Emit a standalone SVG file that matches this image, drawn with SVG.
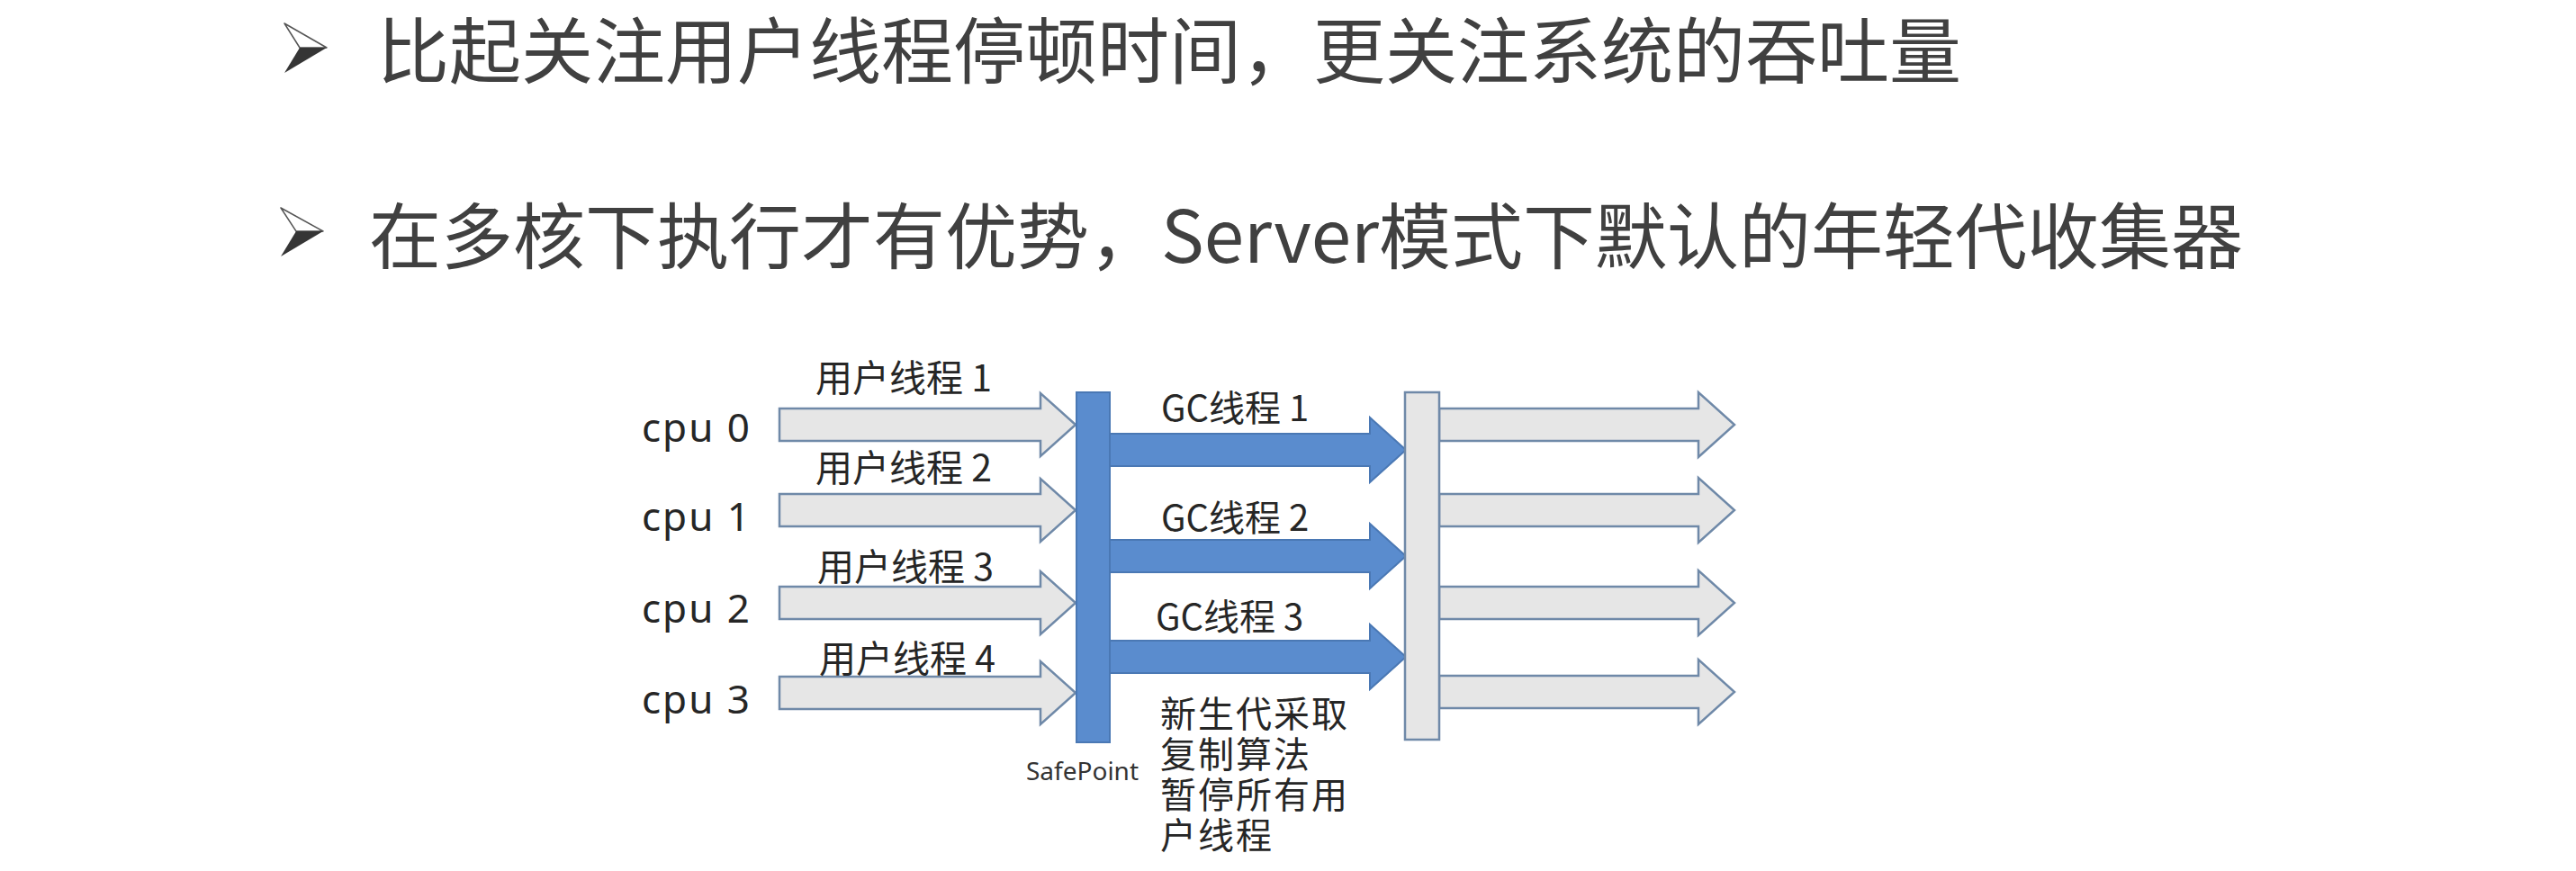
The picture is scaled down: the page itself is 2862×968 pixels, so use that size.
<svg xmlns="http://www.w3.org/2000/svg" width="2862" height="968" viewBox="0 0 2862 968">
<style>
.title{font-family:"Noto Sans CJK SC","Noto Sans",sans-serif;font-size:80px;fill:#404040}
.cpu{font-family:"Noto Sans","Liberation Sans",sans-serif;font-size:44px;fill:#262626;letter-spacing:2px}
.lbl{font-family:"Noto Sans CJK SC","Noto Sans",sans-serif;font-size:41px;fill:#262626}
.gc{font-family:"Noto Sans CJK SC","Noto Sans",sans-serif;font-size:40px;fill:#262626}
.note{font-family:"Noto Sans CJK SC","Noto Sans",sans-serif;font-size:40px;fill:#262626;letter-spacing:2px}
.sp{font-family:"Noto Sans","Liberation Sans",sans-serif;font-size:28px;fill:#333}
.garrow{fill:#e6e6e6;stroke:#6f89a8;stroke-width:2.5;stroke-linejoin:miter}
.barrow{fill:#5a8cce;stroke:#4a78b4;stroke-width:2}
.bul-o{fill:#ffffff;stroke:#555;stroke-width:1.5;stroke-linejoin:round}
.bul-f{fill:#353535}
</style>
<rect width="2862" height="968" fill="#ffffff"/>
<g id="title1">
<polygon class="bul-o" points="316,26 363,53 333,53"/>
<polygon class="bul-f" points="333,53 363,53 316,81"/>
<text class="title" x="419" y="86">比起关注用户线程停顿时间，更关注系统的吞吐量</text>
</g>
<g id="title2">
<polygon class="bul-o" points="312,231 359,257 329,257"/>
<polygon class="bul-f" points="329,257 359,257 312,285"/>
<text class="title" x="410" y="292">在多核下执行才有优势，Server模式下默认的年轻代收集器</text>
</g>
<g id="cpu0"><text class="cpu" x="713" y="491">cpu 0</text></g>
<g id="cpu1"><text class="cpu" x="713" y="590">cpu 1</text></g>
<g id="cpu2"><text class="cpu" x="713" y="692">cpu 2</text></g>
<g id="cpu3"><text class="cpu" x="713" y="793">cpu 3</text></g>
<g id="connectors">
<path class="garrow" d="M866,454 L1156,454 L1156,437 L1195,472 L1156,507 L1156,490 L866,490 Z"/>
<path class="garrow" d="M866,549 L1156,549 L1156,532 L1195,567 L1156,602 L1156,585 L866,585 Z"/>
<path class="garrow" d="M866,652 L1156,652 L1156,635 L1195,670 L1156,705 L1156,688 L866,688 Z"/>
<path class="garrow" d="M866,752 L1156,752 L1156,735 L1195,770 L1156,805 L1156,788 L866,788 Z"/>
<text class="lbl" x="906" y="435">用户线程 1</text>
<text class="lbl" x="906" y="535">用户线程 2</text>
<text class="lbl" x="908" y="645">用户线程 3</text>
<text class="lbl" x="910" y="747">用户线程 4</text>
<path class="barrow" d="M1233,482 L1522,482 L1522,464 L1562,500 L1522,536 L1522,518 L1233,518 Z"/>
<path class="barrow" d="M1233,600 L1522,600 L1522,582 L1562,618 L1522,654 L1522,636 L1233,636 Z"/>
<path class="barrow" d="M1233,712 L1522,712 L1522,694 L1562,730 L1522,766 L1522,748 L1233,748 Z"/>
<text class="gc" x="1290" y="468">GC线程 1</text>
<text class="gc" x="1290" y="590">GC线程 2</text>
<text class="gc" x="1284" y="700">GC线程 3</text>
<path class="garrow" d="M1599,454 L1887,454 L1887,436 L1927,472 L1887,508 L1887,490 L1599,490 Z"/>
<path class="garrow" d="M1599,549 L1887,549 L1887,531 L1927,567 L1887,603 L1887,585 L1599,585 Z"/>
<path class="garrow" d="M1599,652 L1887,652 L1887,634 L1927,670 L1887,706 L1887,688 L1599,688 Z"/>
<path class="garrow" d="M1599,751 L1887,751 L1887,733 L1927,769 L1887,805 L1887,787 L1599,787 Z"/>
</g>
<g id="safepoint">
<rect x="1196" y="436" width="37" height="389" fill="#5a8cce" stroke="#4a78b4" stroke-width="2"/>
<text class="sp" x="1140" y="867">SafePoint</text>
</g>
<g id="resume-bar">
<rect x="1561" y="436" width="38" height="386" fill="#e6e6e6" stroke="#6f89a8" stroke-width="2.5"/>
</g>
<g id="note">
<text class="note" x="1289" y="808">新生代采取</text>
<text class="note" x="1289" y="853">复制算法</text>
<text class="note" x="1289" y="898">暂停所有用</text>
<text class="note" x="1289" y="943">户线程</text>
</g>
</svg>
